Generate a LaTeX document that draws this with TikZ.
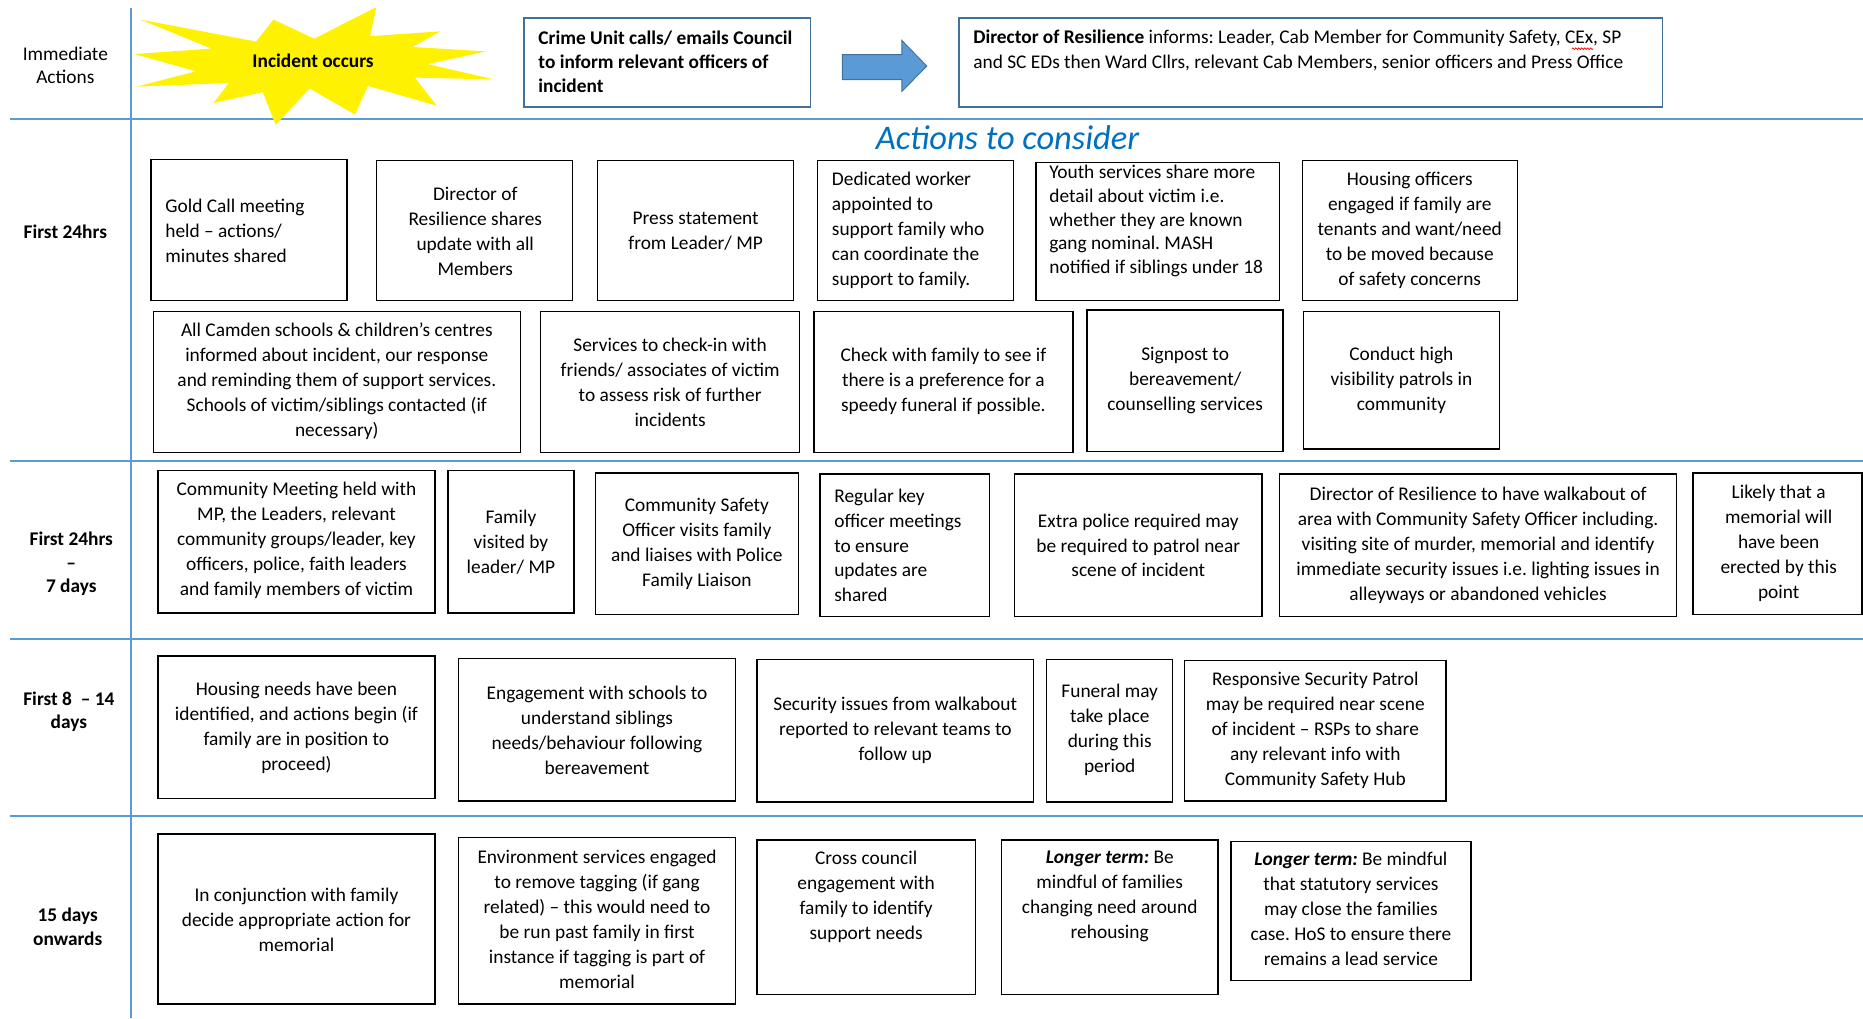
\documentclass[tikz,border=0pt]{standalone}
\usepackage{fontspec}
\setmainfont{Carlito}
\usepackage{tikz}
\usetikzlibrary{decorations.pathmorphing}
\definecolor{rule}{RGB}{91,155,213}
\definecolor{frame}{RGB}{65,113,156}
\definecolor{arrowfill}{RGB}{91,155,213}
\definecolor{titleblue}{RGB}{0,112,192}
\frenchspacing
\tikzset{
  box/.style={draw=black, line width=1.2pt},
  ibox/.style={draw=frame, line width=1.2pt},
  rowline/.style={draw=rule, line width=2pt},
  txt/.style={inner sep=0pt, align=center, font=\fontsize{16.3}{21}\selectfont},
  ltxt/.style={txt, align=left, anchor=west},
  lbl/.style={inner sep=0pt, align=center, font=\fontsize{16.3}{20}\selectfont\bfseries},
}
\begin{document}
\begin{tikzpicture}[x=1pt, y=-1pt]
\useasboundingbox [fill=white] (0,0) rectangle (1568,857);
% row rules
\draw [rowline] (110,7) -- (110,857);
\draw [rowline] (8,100) -- (1568,100);
\draw [rowline] (8,388) -- (1568,388);
\draw [rowline] (8,538) -- (1568,538);
\draw [rowline] (8,687) -- (1568,687);
% row labels
\node [lbl, font=\fontsize{16.3}{20}\selectfont] (immediate) at (55,55) {Immediate\\Actions};
\node [lbl] (first) at (55,195) {First 24hrs};
\node [lbl] (week) at (60,474.5) {First 24hrs\\–\\7 days};
\node [lbl] (fortnight) at (58,599) {First 8~ – 14\\days};
\node [lbl] (onwards) at (57,780) {15 days\\onwards};
% immediate actions
\fill [yellow] (264.5,32.6) -- (316.7,6) -- (311.6,30.4) -- (370.8,26.4) -- (347.3,39.5)
  -- (408.9,43.3) -- (360,54) -- (416,66.9) -- (349.2,65.3) -- (367.5,88.9) -- (309.7,72.3)
  -- (298.8,96.5) -- (260.7,74.5) -- (232,105) -- (221.2,77.6) -- (179.8,86.7) -- (192.5,69.9)
  -- (114.9,72.9) -- (165.2,60) -- (113,45.5) -- (177.9,40.9) -- (118.2,16.5) -- (215.6,35)
  -- (230.2,16.5) -- cycle;
\node [txt, font=\fontsize{16.3}{21}\selectfont\bfseries] (incident) at (263.5,51) {Incident occurs};
\draw [ibox] (441,15) rectangle (682,90);
\node [ltxt, font=\fontsize{16.3}{20}\selectfont\bfseries] (crime) at (453,52) {Crime Unit calls/ emails Council\\to inform relevant officers of\\incident};
\draw [draw=frame, fill=arrowfill, line width=0.8pt] (709,46) -- (759,46) -- (759,34) -- (780,55.6)
  -- (759,77) -- (759,67) -- (709,67) -- cycle;
\draw [ibox] (807,15) rectangle (1399,90);
\node [ltxt] (director) at (819,42.5) {\textbf{Director of Resilience} informs: Leader, Cab Member for Community Safety, CEx, SP\\and SC EDs then Ward Cllrs, relevant Cab Members, senior officers and Press Office};
\draw [red, line width=0.6pt, decorate, decoration={snake, amplitude=0.7pt, segment length=2.5pt}] (1323,41) -- (1341,41);
\node [txt, font=\fontsize{29}{30}\selectfont\itshape, text=titleblue] (consider) at (848,116) {Actions to consider};
% first 24hrs
\draw [box] (127,134) rectangle (292,253);
\node [ltxt] (gold) at (139,194) {Gold Call meeting\\held – actions/\\minutes shared};
\draw [box] (317,135) rectangle (482,253);
\node [txt] (update) at (400,194.5) {Director of\\Resilience shares\\update with all\\Members};
\draw [box] (503,135) rectangle (668,253);
\node [txt] (press) at (585.5,194.5) {Press statement\\from Leader/ MP};
\draw [box] (688,135) rectangle (853,253);
\node [ltxt] (worker) at (700,194) {Dedicated worker\\appointed to\\support family who\\can coordinate the\\support to family.};
\draw [box] (872,137) rectangle (1077,253);
\node [ltxt, font=\fontsize{16.3}{20}\selectfont] (youth) at (883,186) {Youth services share more\\detail about victim i.e.\\whether they are known\\gang nominal. MASH\\notified if siblings under 18};
\draw [box] (1096,135) rectangle (1277,253);
\node [txt] (housing) at (1186.5,194) {Housing officers\\engaged if family are\\tenants and want/need\\to be moved because\\of safety concerns};
\draw [box] (129,262) rectangle (438,381);
\node [txt] (schools) at (283.5,321) {All Camden schools \& children’s centres\\informed about incident, our response\\and reminding them of support services.\\Schools of victim/siblings contacted (if\\necessary)};
\draw [box] (455,262) rectangle (673,381);
\node [txt] (checkin) at (564,321.5) {Services to check-in with\\friends/ associates of victim\\to assess risk of further\\incidents};
\draw [box] (685,262) rectangle (903,381);
\node [txt] (funeral) at (794,321) {Check with family to see if\\there is a preference for a\\speedy funeral if possible.};
\draw [box] (915,261) rectangle (1080,380);
\node [txt] (signpost) at (997.5,320) {Signpost to\\bereavement/\\counselling services};
\draw [box] (1097,262) rectangle (1262,378);
\node [txt] (patrols) at (1179.5,320) {Conduct high\\visibility patrols in\\community};
% first 24hrs - 7 days
\draw [box] (133,396) rectangle (366,516);
\node [txt] (meeting) at (249.5,455) {Community Meeting held with\\MP, the Leaders, relevant\\community groups/leader, key\\officers, police, faith leaders\\and family members of victim};
\draw [box] (377,396) rectangle (483,516);
\node [txt] (visited) at (430,456.5) {Family\\visited by\\leader/ MP};
\draw [box] (501,398) rectangle (672,517);
\node [txt] (officer) at (586.5,457.5) {Community Safety\\Officer visits family\\and liaises with Police\\Family Liaison};
\draw [box] (690,399) rectangle (833,519);
\node [ltxt] (regular) at (702,459) {Regular key\\officer meetings\\to ensure\\updates are\\shared};
\draw [box] (854,399) rectangle (1062,519);
\node [txt] (police) at (958,459) {Extra police required may\\be required to patrol near\\scene of incident};
\draw [box] (1077,399) rectangle (1411,519);
\node [txt] (walkabout) at (1244,459) {Director of Resilience to have walkabout of\\area with Community Safety Officer including.\\visiting site of murder, memorial and identify\\immediate security issues i.e. lighting issues in\\alleyways or abandoned vehicles};
\draw [box] (1425,398) rectangle (1567,517);
\node [txt] (memorial) at (1497,457.5) {Likely that a\\memorial will\\have been\\erected by this\\point};
% first 8 - 14 days
\draw [box] (133,552) rectangle (366,672);
\node [txt] (needs) at (249.5,612.5) {Housing needs have been\\identified, and actions begin (if\\family are in position to\\proceed)};
\draw [box] (386,554) rectangle (619,674);
\node [txt] (engage) at (502.5,614.5) {Engagement with schools to\\understand siblings\\needs/behaviour following\\bereavement};
\draw [box] (637,555) rectangle (870,675);
\node [txt] (security) at (753.5,615) {Security issues from walkabout\\reported to relevant teams to\\follow up};
\draw [box] (881,555) rectangle (987,675);
\node [txt] (takeplace) at (934,614.5) {Funeral may\\take place\\during this\\period};
\draw [box] (997,556) rectangle (1217,674);
\node [txt] (rsp) at (1107,614.5) {Responsive Security Patrol\\may be required near scene\\of incident – RSPs to share\\any relevant info with\\Community Safety Hub};
% 15 days onwards
\draw [box] (133,702) rectangle (366,845);
\node [txt] (conjunction) at (249.5,774) {In conjunction with family\\decide appropriate action for\\memorial};
\draw [box] (386,705) rectangle (619,845);
\node [txt] (tagging) at (502.5,773.5) {Environment services engaged\\to remove tagging (if gang\\related) – this would need to\\be run past family in first\\instance if tagging is part of\\memorial};
\draw [box] (637,707) rectangle (821,837);
\node [txt] (cross) at (729,754.5) {Cross council\\engagement with\\family to identify\\support needs};
\draw [box] (843,707) rectangle (1025,837);
\node [txt] (rehousing) at (934,754.5) {\textbf{\textit{Longer term:}} Be\\mindful of families\\changing need around\\rehousing};
\draw [box] (1036,708) rectangle (1238,825);
\node [txt] (statutory) at (1137,765) {\textbf{\textit{Longer term:}} Be mindful\\that statutory services\\may close the families\\case. HoS to ensure there\\remains a lead service};
\end{tikzpicture}
\end{document}
